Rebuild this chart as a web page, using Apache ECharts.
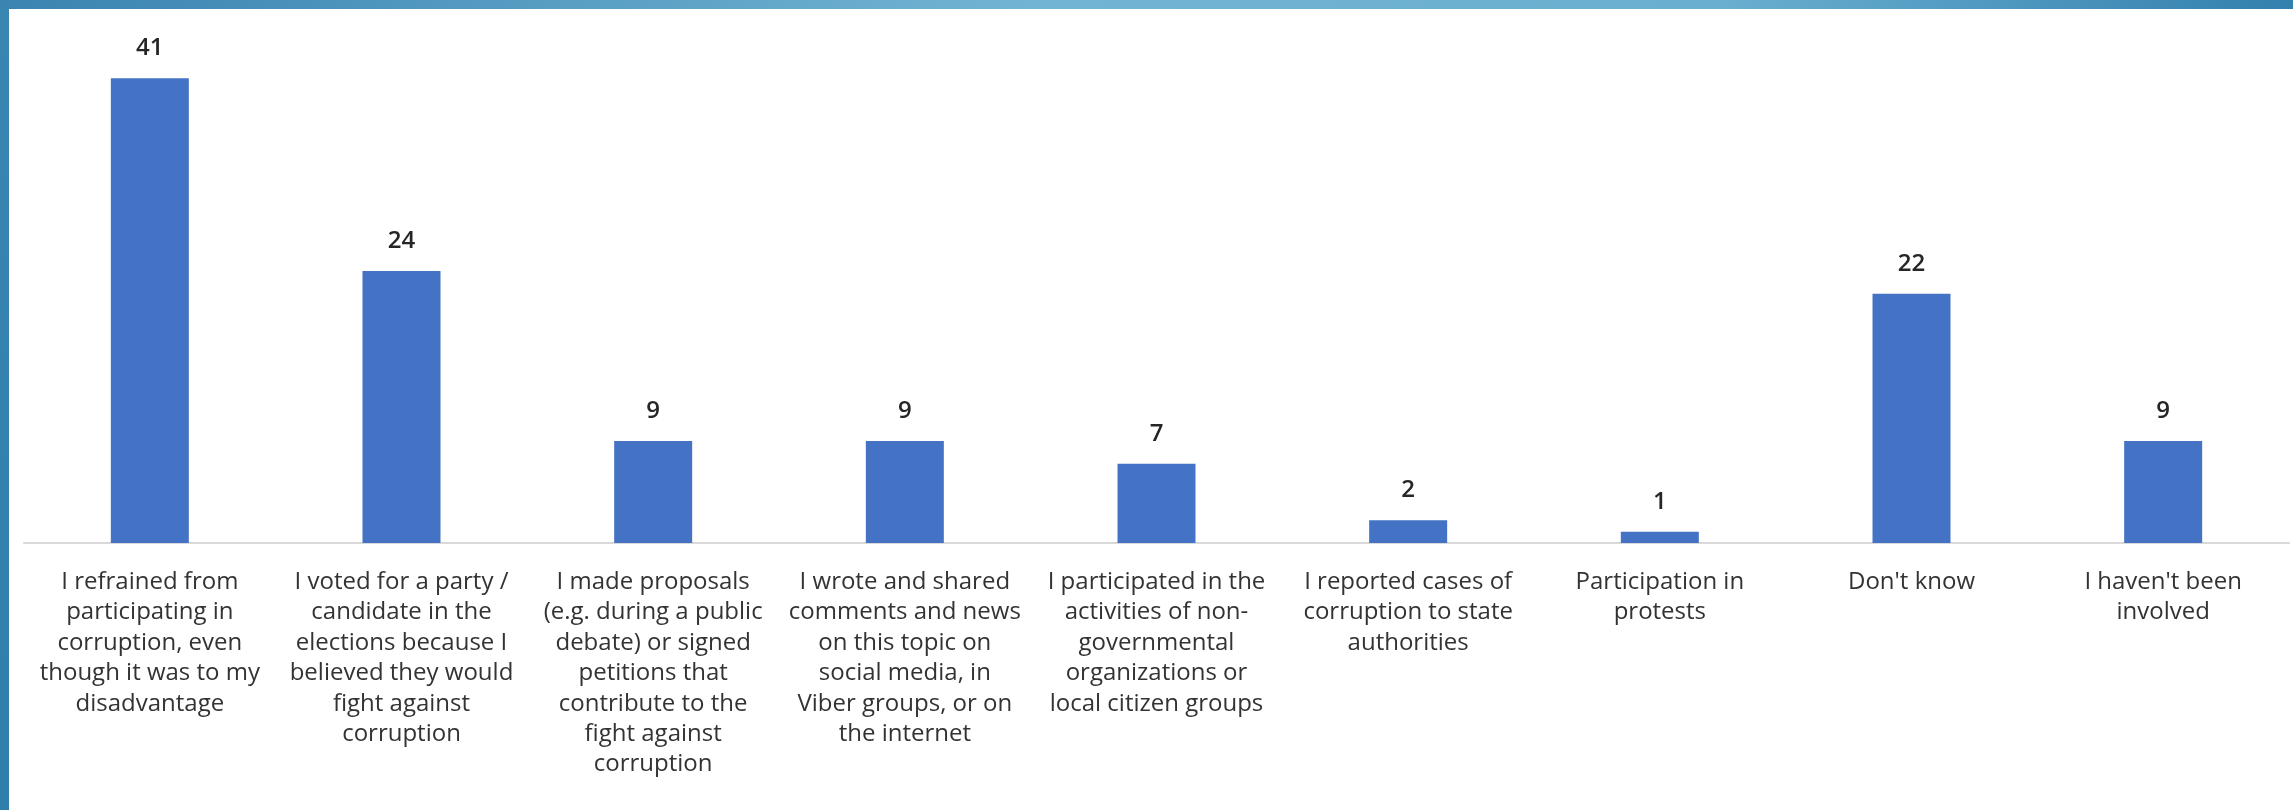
<!DOCTYPE html>
<html>
<head>
<meta charset="utf-8">
<script src="https://cdn.jsdelivr.net/npm/echarts@6/dist/echarts.min.js"></script>
<style>
html,body{margin:0;padding:0;background:#fff;}
#chart{width:2293px;height:810px;}
</style>
</head>
<body>
<div id="chart"></div>
<script>
const categories = [
  "I refrained from\nparticipating in\ncorruption, even\nthough it was to my\ndisadvantage",
  "I voted for a party /\ncandidate in the\nelections because I\nbelieved they would\nfight against\ncorruption",
  "I made proposals\n(e.g. during a public\ndebate) or signed\npetitions that\ncontribute to the\nfight against\ncorruption",
  "I wrote and shared\ncomments and news\non this topic on\nsocial media, in\nViber groups, or on\nthe internet",
  "I participated in the\nactivities of non-\ngovernmental\norganizations or\nlocal citizen groups",
  "I reported cases of\ncorruption to state\nauthorities",
  "Participation in\nprotests",
  "Don't know",
  "I haven't been\ninvolved"
];
const values = [41, 24, 9, 9, 7, 2, 1, 22, 9];

const chart = echarts.init(document.getElementById('chart'));
chart.setOption({
  backgroundColor: '#ffffff',
  animation: false,
  grid: { left: 24, right: 4, top: 33, bottom: 267, containLabel: false },
  xAxis: {
    type: 'category',
    data: categories,
    axisTick: { show: false },
    axisLine: { show: true, lineStyle: { color: '#d9d9d9', width: 2 } },
    axisLabel: {
      interval: 0,
      margin: 24,
      fontFamily: 'Open Sans',
      fontSize: 24,
      lineHeight: 30.4,
      color: '#333333',
      align: 'center'
    }
  },
  yAxis: {
    type: 'value',
    min: 0,
    max: 45,
    show: false,
    splitLine: { show: false }
  },
  series: [{
    type: 'bar',
    data: values,
    barWidth: 78,
    itemStyle: { color: '#4472C4' },
    label: {
      show: true,
      position: 'top',
      distance: 18,
      fontFamily: 'Open Sans',
      fontSize: 24,
      fontWeight: 600,
      color: '#262626'
    }
  }],
  graphic: [
    {
      type: 'rect',
      left: 0, top: 0,
      shape: { width: 9, height: 810 },
      style: {
        fill: new echarts.graphic.LinearGradient(0, 0, 0, 1, [
          { offset: 0, color: '#3a86b3' },
          { offset: 1, color: '#2f7eac' }
        ])
      },
      z: 10
    },
    {
      type: 'rect',
      left: 0, top: 0,
      shape: { width: 2293, height: 9 },
      style: {
        fill: new echarts.graphic.LinearGradient(0, 0, 1, 0, [
          { offset: 0, color: '#3a84b1' },
          { offset: 0.45, color: '#72b4d3' },
          { offset: 0.75, color: '#6aafd0' },
          { offset: 1, color: '#3380ae' }
        ])
      },
      z: 11
    }
  ]
});
</script>
</body>
</html>
